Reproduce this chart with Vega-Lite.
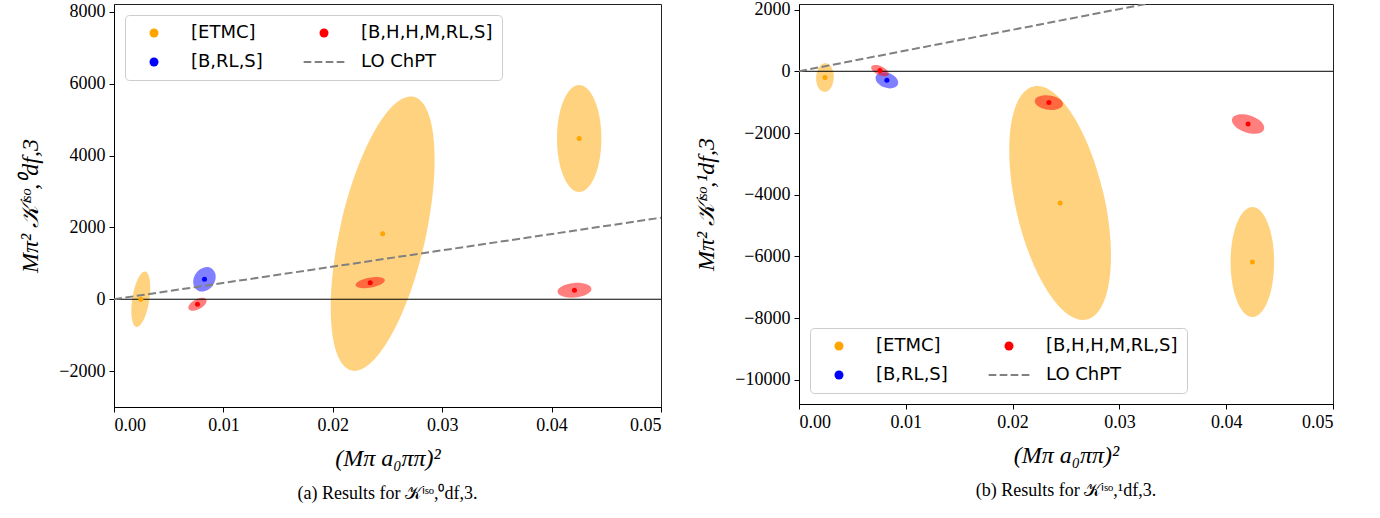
{
  "$schema": "https://vega.github.io/schema/vega-lite/v6.json",
  "background": "white",
  "padding": {"left": 18, "top": 0, "right": 5, "bottom": 5},
  "spacing": 32,
  "config": {
    "view": {"stroke": "#222", "strokeWidth": 1},
    "axis": {"grid": false, "domainColor": "#000", "tickColor": "#000", "tickSize": 5, "labelFont": "Liberation Serif", "labelFontSize": 18, "labelColor": "#000", "labelPadding": 4, "titleFont": "Liberation Serif", "titleFontSize": 24, "titleFontWeight": "normal", "titleFontStyle": "italic", "titleColor": "#000"},
    "axisX": {"titlePadding": 12},
    "axisY": {"titlePadding": 16, "labelExpr": "datum.value < 0 ? '−' + format(-datum.value, 'd') : format(datum.value, 'd')"},
    "legend": {"title": null, "columns": 2, "symbolSize": 81, "symbolOpacity": 1, "symbolStrokeWidth": 0, "labelFont": "DejaVu Sans", "labelFontSize": 18, "labelColor": "#000", "padding": 9, "symbolOffset": 11, "labelOffset": 28, "columnPadding": 40, "rowPadding": 11, "fillColor": "rgba(255,255,255,0.8)", "strokeColor": "#cccccc", "cornerRadius": 4, "offset": 11},
    "title": {"font": "Liberation Serif", "fontSize": 18, "fontWeight": "normal", "color": "#000", "orient": "bottom", "anchor": "middle", "offset": 15}
  },
  "datasets": {
    "pa": [
      {"s": "[ETMC]", "x": 0.00245, "y": 0, "e": "a1"},
      {"s": "[ETMC]", "x": 0.02456, "y": 1825, "e": "a4"},
      {"s": "[ETMC]", "x": 0.04252, "y": 4478, "e": "a7"},
      {"s": "[B,RL,S]", "x": 0.00827, "y": 556, "e": "a3"},
      {"s": "[B,H,H,M,RL,S]", "x": 0.00763, "y": -139, "e": "a2"},
      {"s": "[B,H,H,M,RL,S]", "x": 0.02342, "y": 462, "e": "a5"},
      {"s": "[B,H,H,M,RL,S]", "x": 0.04209, "y": 250, "e": "a6"}
    ],
    "pb": [
      {"s": "[ETMC]", "x": 0.00243, "y": -204, "e": "b1"},
      {"s": "[ETMC]", "x": 0.02445, "y": -4268, "e": "b6"},
      {"s": "[ETMC]", "x": 0.04245, "y": -6181, "e": "b7"},
      {"s": "[B,RL,S]", "x": 0.00823, "y": -292, "e": "b3"},
      {"s": "[B,H,H,M,RL,S]", "x": 0.00758, "y": 23, "e": "b2"},
      {"s": "[B,H,H,M,RL,S]", "x": 0.0234, "y": -1015, "e": "b4"},
      {"s": "[B,H,H,M,RL,S]", "x": 0.04205, "y": -1708, "e": "b5"}
    ],
    "la": [{"x": 0, "y": 0}, {"x": 0.05, "y": 2270}],
    "lb": [{"x": 0, "y": 0}, {"x": 0.05, "y": 3360}]
  },
  "hconcat": [
    {
      "width": 547,
      "height": 403,
      "title": {"text": "(a)  Results for 𝒦ⁱˢᵒ,⁰df,3."},
      "layer": [
        {
          "data": {"name": "pa"},
          "mark": {"type": "point", "filled": true, "opacity": 0.5, "size": 4, "strokeWidth": 0},
          "encoding": {
            "x": {"field": "x", "type": "quantitative", "scale": {"domain": [0, 0.05], "nice": false, "zero": false}, "axis": {"values": [0, 0.01, 0.02, 0.03, 0.04, 0.05], "format": ".2f", "title": "(Mπ a₀ππ)²"}},
            "y": {"field": "y", "type": "quantitative", "scale": {"domain": [-3000, 8220], "nice": false, "zero": false}, "axis": {"values": [-2000, 0, 2000, 4000, 6000, 8000], "title": "Mπ² 𝒦ⁱˢᵒ,⁰df,3"}},
            "fill": {"field": "s", "type": "nominal", "legend": null, "scale": {"domain": ["[ETMC]", "[B,H,H,M,RL,S]", "[B,RL,S]"], "range": ["#FFA500", "#FF0000", "#0000FF"]}},
            "shape": {"field": "e", "type": "nominal", "legend": {"orient": "top-left", "symbolOpacity": 1, "values": ["[ETMC]", "[B,RL,S]", "[B,H,H,M,RL,S]", "LO ChPT"]}}
          }
        },
        {
          "data": {"values": [{}]},
          "mark": {"type": "rule", "color": "#000", "strokeWidth": 1},
          "encoding": {"y": {"datum": 0}}
        },
        {
          "data": {"name": "la"},
          "mark": {"type": "line", "color": "#808080", "strokeWidth": 2, "strokeDash": [8, 3.5], "clip": true},
          "encoding": {"x": {"field": "x", "type": "quantitative"}, "y": {"field": "y", "type": "quantitative"}}
        },
        {
          "data": {"name": "pa"},
          "mark": {"type": "point", "filled": true, "opacity": 1, "size": 25, "strokeWidth": 0},
          "encoding": {
            "x": {"field": "x", "type": "quantitative"},
            "y": {"field": "y", "type": "quantitative"},
            "color": {"field": "s", "type": "nominal", "scale": {"domain": ["[ETMC]", "[B,RL,S]", "[B,H,H,M,RL,S]", "LO ChPT", "a1", "a2", "a3", "a4", "a5", "a6", "a7"], "range": ["#FFA500", "#0000FF", "#FF0000", "#808080", "#FFA500", "#FF0000", "#0000FF", "#FFA500", "#FF0000", "#FF0000", "#FFA500"]}, "legend": {"orient": "top-left", "symbolOpacity": 1, "values": ["[ETMC]", "[B,RL,S]", "[B,H,H,M,RL,S]", "LO ChPT"]}},
            "shape": {"field": "s", "type": "nominal", "scale": {"domain": ["[ETMC]", "[B,RL,S]", "[B,H,H,M,RL,S]", "LO ChPT", "a1", "a2", "a3", "a4", "a5", "a6", "a7"], "range": ["circle", "circle", "circle", "M-4.52,-0.22H-2.82V0.22H-4.52ZM-2.07,-0.22H-0.37V0.22H-2.07ZM0.37,-0.22H2.07V0.22H0.37ZM2.82,-0.22H4.52V0.22H2.82Z",
              "M4.38,-27.66A28,8.5,-81,1,1,-4.38,27.66A28,8.5,-81,1,1,4.38,-27.66Z",
              "M8.83,-4.69A10,5,-28,1,1,-8.83,4.69A10,5,-28,1,1,8.83,-4.69Z",
              "M7.46,-10.65A13,10.3,-55,1,1,-7.46,10.65A13,10.3,-55,1,1,7.46,-10.65Z",
              "M30.97,-136.85A140.3,42.8,-77.25,1,1,-30.97,136.85A140.3,42.8,-77.25,1,1,30.97,-136.85Z",
              "M14.58,-2.57A14.8,5,-10,1,1,-14.58,2.57A14.8,5,-10,1,1,14.58,-2.57Z",
              "M16.94,-1.48A17,7.3,-5,1,1,-16.94,1.48A17,7.3,-5,1,1,16.94,-1.48Z",
              "M0,-53.5A53.5,22.2,-90,1,1,0,53.5A53.5,22.2,-90,1,1,0,-53.5Z"]}, "legend": {"orient": "top-left", "symbolOpacity": 1, "values": ["[ETMC]", "[B,RL,S]", "[B,H,H,M,RL,S]", "LO ChPT"]}}
          }
        }
      ]
    },
    {
      "width": 534,
      "height": 400,
      "title": {"text": "(b)  Results for 𝒦ⁱˢᵒ,¹df,3."},
      "layer": [
        {
          "data": {"name": "pb"},
          "mark": {"type": "point", "filled": true, "opacity": 0.5, "size": 4, "strokeWidth": 0},
          "encoding": {
            "x": {"field": "x", "type": "quantitative", "scale": {"domain": [0, 0.05], "nice": false, "zero": false}, "axis": {"values": [0, 0.01, 0.02, 0.03, 0.04, 0.05], "format": ".2f", "title": "(Mπ a₀ππ)²"}},
            "y": {"field": "y", "type": "quantitative", "scale": {"domain": [-10780, 2180], "nice": false, "zero": false}, "axis": {"values": [-10000, -8000, -6000, -4000, -2000, 0, 2000], "title": "Mπ² 𝒦ⁱˢᵒ,¹df,3"}},
            "fill": {"field": "s", "type": "nominal", "legend": null, "scale": {"domain": ["[ETMC]", "[B,H,H,M,RL,S]", "[B,RL,S]"], "range": ["#FFA500", "#FF0000", "#0000FF"]}},
            "shape": {"field": "e", "type": "nominal", "legend": {"orient": "bottom-left", "symbolOpacity": 1, "values": ["[ETMC]", "[B,RL,S]", "[B,H,H,M,RL,S]", "LO ChPT"]}}
          }
        },
        {
          "data": {"values": [{}]},
          "mark": {"type": "rule", "color": "#000", "strokeWidth": 1},
          "encoding": {"y": {"datum": 0}}
        },
        {
          "data": {"name": "lb"},
          "mark": {"type": "line", "color": "#808080", "strokeWidth": 2, "strokeDash": [8, 3.5], "clip": true},
          "encoding": {"x": {"field": "x", "type": "quantitative"}, "y": {"field": "y", "type": "quantitative"}}
        },
        {
          "data": {"name": "pb"},
          "mark": {"type": "point", "filled": true, "opacity": 1, "size": 25, "strokeWidth": 0},
          "encoding": {
            "x": {"field": "x", "type": "quantitative"},
            "y": {"field": "y", "type": "quantitative"},
            "color": {"field": "s", "type": "nominal", "scale": {"domain": ["[ETMC]", "[B,RL,S]", "[B,H,H,M,RL,S]", "LO ChPT", "b1", "b2", "b3", "b4", "b5", "b6", "b7"], "range": ["#FFA500", "#0000FF", "#FF0000", "#808080", "#FFA500", "#FF0000", "#0000FF", "#FF0000", "#FF0000", "#FFA500", "#FFA500"]}, "legend": {"orient": "bottom-left", "symbolOpacity": 1, "values": ["[ETMC]", "[B,RL,S]", "[B,H,H,M,RL,S]", "LO ChPT"]}},
            "shape": {"field": "s", "type": "nominal", "scale": {"domain": ["[ETMC]", "[B,RL,S]", "[B,H,H,M,RL,S]", "LO ChPT", "b1", "b2", "b3", "b4", "b5", "b6", "b7"], "range": ["circle", "circle", "circle", "M-4.52,-0.22H-2.82V0.22H-4.52ZM-2.07,-0.22H-0.37V0.22H-2.07ZM0.37,-0.22H2.07V0.22H0.37ZM2.82,-0.22H4.52V0.22H2.82Z",
              "M0.75,-14.28A14.3,8.8,-87,1,1,-0.75,14.28A14.3,8.8,-87,1,1,0.75,-14.28Z",
              "M8.61,4.01A9.5,4.3,25,1,1,-8.61,-4.01A9.5,4.3,25,1,1,8.61,4.01Z",
              "M11.09,4.04A11.8,7.5,20,1,1,-11.09,-4.04A11.8,7.5,20,1,1,11.09,4.04Z",
              "M14.06,1.98A14.2,7,8,1,1,-14.06,-1.98A14.2,7,8,1,1,14.06,1.98Z",
              "M15.98,5.19A16.8,8.7,18,1,1,-15.98,-5.19A16.8,8.7,18,1,1,15.98,5.19Z",
              "M26.7,116.6A119.6,44.4,77.1,1,1,-26.7,-116.6A119.6,44.4,77.1,1,1,26.7,116.6Z",
              "M0,-55A55,21.8,-90,1,1,0,55A55,21.8,-90,1,1,0,-55Z"]}, "legend": {"orient": "bottom-left", "symbolOpacity": 1, "values": ["[ETMC]", "[B,RL,S]", "[B,H,H,M,RL,S]", "LO ChPT"]}}
          }
        }
      ]
    }
  ],
  "resolve": {"scale": {"color": "independent", "shape": "independent", "fill": "independent", "x": "independent", "y": "independent"}, "legend": {"color": "independent", "shape": "independent"}}
}
